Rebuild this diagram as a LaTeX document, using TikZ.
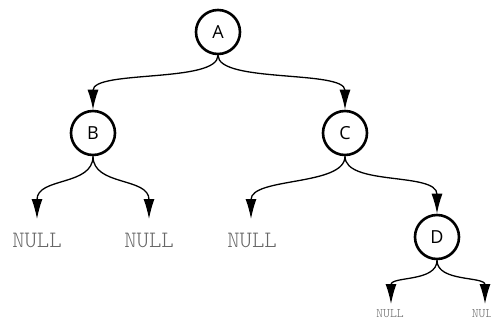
\documentclass[tikz,border=0pt]{standalone}
\usepackage{fontspec}
\setsansfont{Open Sans}
\usetikzlibrary{arrows.meta}
\begin{document}
\begin{tikzpicture}[x=1pt,y=-1pt,
  vertex/.style={circle,draw,line width=2.6pt,minimum size=44pt,inner sep=0pt,font=\sffamily\fontsize{18}{18}\selectfont},
  nullleaf/.style={font=\fontseries{l}\ttfamily\fontsize{23.5}{23.5}\selectfont,text=black!60,inner sep=0pt},
  smallnull/.style={font=\fontseries{l}\ttfamily\fontsize{13}{13}\selectfont,text=black!60,inner sep=0pt},
  link/.style={line width=1.3pt,-{Latex[length=20pt,width=11pt]}}]
\useasboundingbox (0,0) rectangle (491,322);
% tree nodes
\node[vertex] (A) at (218,32) {A};
\node[vertex] (B) at (93,133) {B};
\node[vertex] (C) at (345,133) {C};
\node[vertex] (D) at (437,237) {D};
% empty subtrees
\node[nullleaf] (n1) at (37,240) {NULL};
\node[nullleaf] (n2) at (149,240) {NULL};
\node[nullleaf] (n3) at (252,240) {NULL};
\node[smallnull] (n4) at (390,314) {NULL};
\node[smallnull] (n5) at (485.5,314) {NULL};
% arrow tips stop above the labels
\coordinate (t1) at (37,219);
\coordinate (t2) at (149,219);
\coordinate (t3) at (251,219);
\coordinate (t4) at (391,304);
\coordinate (t5) at (485,304);
% edges
\draw[link] (A.south) .. controls +(0,28) and +(0,-40) .. (B.north);
\draw[link] (A.south) .. controls +(0,28) and +(0,-40) .. (C.north);
\draw[link] (B.south) .. controls +(0,30) and +(0,-42) .. (t1);
\draw[link] (B.south) .. controls +(0,30) and +(0,-42) .. (t2);
\draw[link] (C.south) .. controls +(0,30) and +(0,-42) .. (t3);
\draw[link] (C.south) .. controls +(0,30) and +(0,-42) .. (D.north);
\draw[link] (D.south) .. controls +(0,22) and +(0,-28) .. (t4);
\draw[link] (D.south) .. controls +(0,22) and +(0,-28) .. (t5);
\end{tikzpicture}
\end{document}
